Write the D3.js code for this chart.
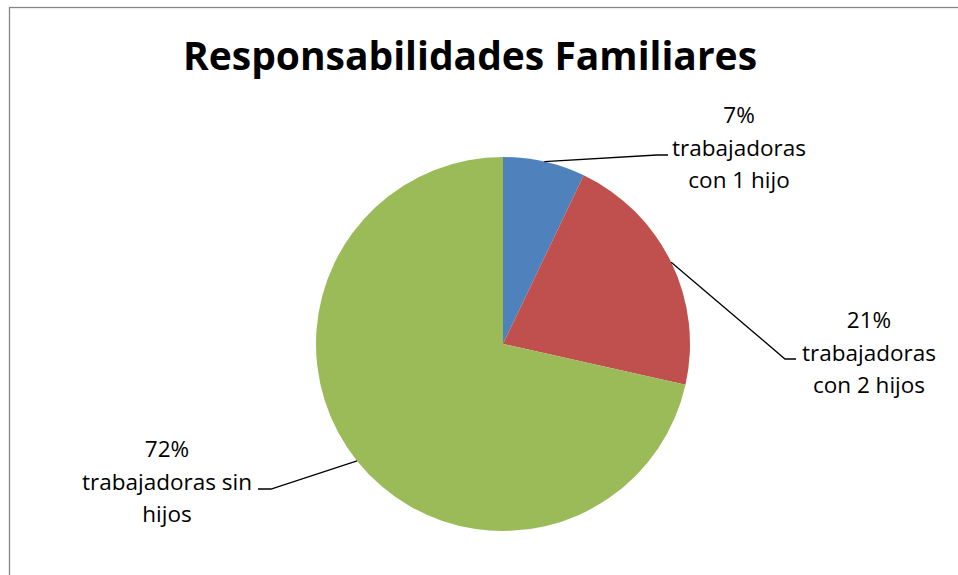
<!doctype html>
<html lang="es">
  <head>
    <meta charset="UTF-8" />
    <title>Responsabilidades Familiares</title>
    <style>
      html, body { margin: 0; padding: 0; background: #fff; }
      svg { display: block; }
      .title { font-family: "Open Sans", sans-serif; font-weight: bold; font-size: 39px; }
      .label { font-family: "Open Sans", sans-serif; font-size: 22.5px; fill: #000; }
      .leader { stroke: #000; stroke-width: 1.3px; fill: none; }
    </style>
  </head>
  <body>
    <div id="chart"></div>
    <script src="https://d3js.org/d3.v7.min.js"></script>
    <script>
      // chart data
      const categories = ['trabajadoras con 1 hijo', 'trabajadoras con 2 hijos', 'trabajadoras sin hijos'];
      const values = [7.1, 21.4, 71.5];
      const percentLabels = ['7%', '21%', '72%'];
      const labelLines = [
        ['7%', 'trabajadoras', 'con 1 hijo'],
        ['21%', 'trabajadoras', 'con 2 hijos'],
        ['72%', 'trabajadoras sin', 'hijos'],
      ];
      const colors = ['#4F81BD', '#C0504D', '#9BBB59'];

      const width = 958;
      const height = 575;
      const cx = 503, cy = 344, radius = 187;

      // where each label block sits (center x, first baseline) and the leader elbow
      const labelLayout = [
        { x: 739, y: 123, elbow: [657, 155], end: [668, 155] },
        { x: 869, y: 328, elbow: [785, 359], end: [796, 359] },
        { x: 167, y: 457, elbow: [271, 489], end: [258, 489] },
      ];
      const lineHeight = 32.5;

      const svg = d3.select('#chart').append('svg').attr('width', width).attr('height', height);

      // chart area border (runs off the right and bottom of the window)
      svg.append('rect')
        .attr('x', 9.5).attr('y', 7.5)
        .attr('width', 1000).attr('height', 600)
        .attr('fill', '#fff')
        .attr('stroke', '#868686')
        .attr('stroke-width', 1.3);

      svg.append('text')
        .attr('class', 'title')
        .attr('x', 470).attr('y', 70)
        .attr('text-anchor', 'middle')
        .text('Responsabilidades Familiares');

      const pie = d3.pie().sort(null).value((d) => d);
      const arcs = pie(values);
      const arc = d3.arc().innerRadius(0).outerRadius(radius);

      const g = svg.append('g').attr('transform', `translate(${cx},${cy})`);

      g.selectAll('path.slice')
        .data(arcs)
        .enter()
        .append('path')
        .attr('class', 'slice')
        .attr('d', arc)
        .attr('fill', (d, i) => colors[i]);

      // leader lines from the middle of each slice's rim
      svg.selectAll('polyline.leader')
        .data(arcs)
        .enter()
        .append('polyline')
        .attr('class', 'leader')
        .attr('points', (d, i) => {
          const a = (d.startAngle + d.endAngle) / 2;
          const p0 = [cx + radius * Math.sin(a), cy - radius * Math.cos(a)];
          const l = labelLayout[i];
          return [p0, l.elbow, l.end].map((p) => p.join(',')).join(' ');
        });

      // data labels
      labelLines.forEach((lines, i) => {
        const l = labelLayout[i];
        const t = svg.append('text')
          .attr('class', 'label')
          .attr('text-anchor', 'middle')
          .attr('aria-label', percentLabels[i] + ' ' + categories[i]);
        lines.forEach((s, j) => {
          t.append('tspan').attr('x', l.x).attr('y', l.y + j * lineHeight).text(s);
        });
      });
    </script>
  </body>
</html>
